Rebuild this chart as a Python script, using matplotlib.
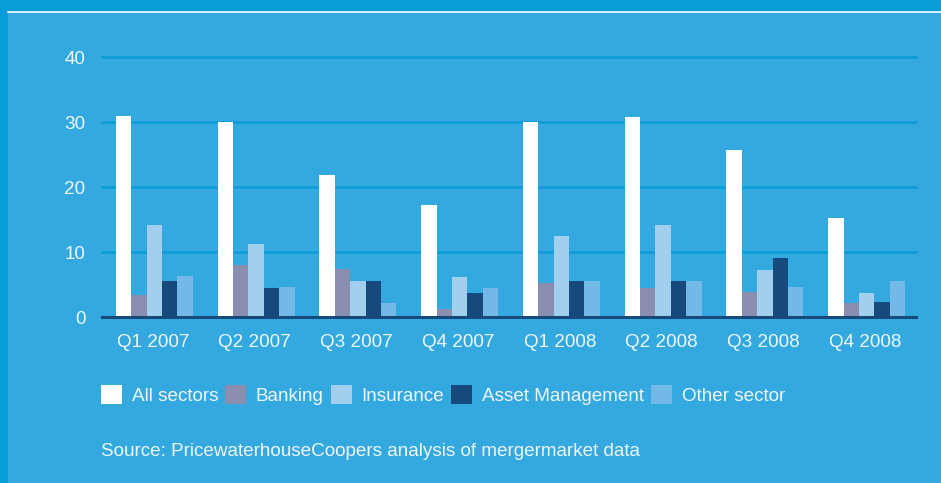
import numpy as np
import matplotlib.pyplot as plt
from matplotlib.patches import Rectangle, Patch
from matplotlib.lines import Line2D

# ========== data ==========
quarters = ['Q1 2007', 'Q2 2007', 'Q3 2007', 'Q4 2007',
            'Q1 2008', 'Q2 2008', 'Q3 2008', 'Q4 2008']
all_sectors = [30.9, 30.0, 21.8, 17.2, 30.0, 30.8, 25.7, 15.2]
banking = [3.4, 8.0, 7.4, 1.3, 5.3, 4.5, 3.9, 2.2]
insurance = [14.1, 11.3, 5.5, 6.2, 12.4, 14.1, 7.3, 3.7]
asset_mgmt = [5.5, 4.5, 5.6, 3.7, 5.5, 5.5, 9.1, 2.3]
other_sector = [6.3, 4.6, 2.2, 4.5, 5.5, 5.5, 4.6, 5.5]
series_names = ['All sectors', 'Banking', 'Insurance', 'Asset Management', 'Other sector']
yticks = [0, 10, 20, 30, 40]

# ========== style ==========
BG = '#33a9e0'
FRAME = '#0a9bd9'
GRID = '#0b9bd9'
NAVY = '#174a7c'
TXT = '#eef7fc'
colors = ['#ffffff', '#8a8fb0', '#a2cfee', NAVY, '#72b9e8']
plt.rcParams['font.family'] = ['Liberation Sans', 'DejaVu Sans']
FS = 13.6

W, H = 941, 483
fig = plt.figure(figsize=(W / 100, H / 100), dpi=100)
fig.patch.set_facecolor(BG)

# outer frame: dark band at top and left, thin white line under the top band
fig.add_artist(Rectangle((0, 1 - 11 / H), 1, 11 / H, transform=fig.transFigure,
                         color=FRAME, lw=0, zorder=0))
fig.add_artist(Rectangle((0, 0), 8 / W, 1, transform=fig.transFigure,
                         color=FRAME, lw=0, zorder=0))
fig.add_artist(Line2D([8 / W, 1], [1 - 11.5 / H] * 2, transform=fig.transFigure,
                      color='white', lw=1.2, zorder=1))

ax = fig.add_axes([102 / W, (H - 317) / H, (916 - 102) / W, (317 - 57.3) / H])
ax.set_facecolor(BG)

x = np.arange(len(quarters))
bw = 0.151
data = [all_sectors, banking, insurance, asset_mgmt, other_sector]
for i, (vals, c) in enumerate(zip(data, colors)):
    ax.bar(x + (i - 2) * bw + 0.015, vals, width=bw, color=c, lw=0, zorder=3)

ax.set_xlim(-0.5, len(quarters) - 0.5)
ax.set_ylim(0, 40)
ax.set_yticks(yticks)
for yv in yticks[1:]:
    ax.axhline(yv, color=GRID, lw=1.8, zorder=1, clip_on=False)
ax.axhline(0, color=NAVY, lw=2.2, zorder=4, clip_on=False)

for s in ax.spines.values():
    s.set_visible(False)
ax.set_xticks(x)
ax.set_xticklabels(quarters)
ax.tick_params(axis='both', length=0, colors=TXT, labelsize=FS)
ax.tick_params(axis='x', pad=12)
ax.tick_params(axis='y', pad=12)

handles = [Patch(facecolor=c, edgecolor='none') for c in colors]
fig.legend(handles, series_names, loc='center left',
           bbox_to_anchor=(101 / W, 1 - 395 / H), ncol=5, frameon=False,
           fontsize=FS, labelcolor=TXT, handlelength=1.1, handleheight=1.16,
           handletextpad=0.52, columnspacing=0.38, borderaxespad=0, borderpad=0)

fig.text(101 / W, 1 - 451 / H, 'Source: PricewaterhouseCoopers analysis of mergermarket data',
         color=TXT, fontsize=FS, va='center', ha='left')

fig.savefig('out.png', dpi=100, facecolor=fig.get_facecolor())
